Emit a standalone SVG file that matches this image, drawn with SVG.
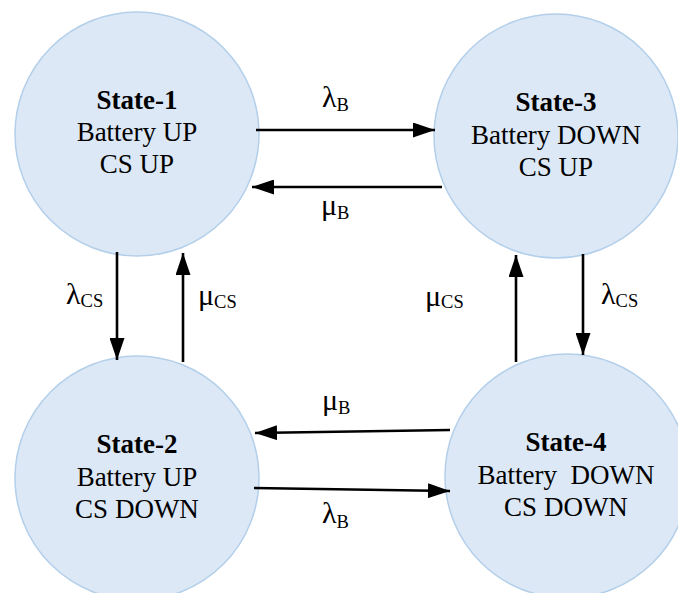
<svg xmlns="http://www.w3.org/2000/svg" width="678" height="593" viewBox="0 0 678 593">
<defs>
<style>
.node circle{fill:#dce8f5;stroke:#b3cfea;stroke-width:1.5}
.t{font-family:"Liberation Serif","Times New Roman",serif;font-size:27px;fill:#000;text-anchor:middle;white-space:pre}
.b{font-weight:bold}
.lbl{font-family:"Liberation Serif","Times New Roman",serif;font-size:30px;fill:#000}
.sub{font-size:18.5px}
.conn line{stroke:#000;stroke-width:2.6;fill:none;marker-end:url(#ah)}
</style>
<marker id="ah" viewBox="0 0 22 15" refX="22" refY="7.5" markerWidth="22" markerHeight="15" markerUnits="userSpaceOnUse" orient="auto">
<path d="M0,0 L22,7.5 L0,15 z" fill="#000"/>
</marker>
</defs>
<rect width="678" height="593" fill="#fff"/>
<g id="state1" class="node">
<circle cx="137" cy="134" r="122"/>
<text class="t b" x="137" y="109">State-1</text>
<text class="t" x="137" y="141">Battery UP</text>
<text class="t" x="137" y="173">CS UP</text>
</g>
<g id="state3" class="node">
<circle cx="556" cy="136" r="122"/>
<text class="t b" x="556" y="111">State-3</text>
<text class="t" x="556" y="144">Battery DOWN</text>
<text class="t" x="556" y="176">CS UP</text>
</g>
<g id="state2" class="node">
<circle cx="137" cy="478" r="122"/>
<text class="t b" x="137" y="453">State-2</text>
<text class="t" x="137" y="486">Battery UP</text>
<text class="t" x="137" y="518">CS DOWN</text>
</g>
<g id="state4" class="node">
<circle cx="567" cy="476" r="122"/>
<text class="t b" x="566" y="451">State-4</text>
<text class="t" x="566" y="484">Battery  DOWN</text>
<text class="t" x="566" y="516">CS DOWN</text>
</g>
<g id="connectors" class="conn">
<line x1="256" y1="130" x2="435" y2="130"/>
<line x1="442" y1="187" x2="252" y2="187"/>
<line x1="117" y1="252" x2="117" y2="360"/>
<line x1="183" y1="362" x2="183" y2="253"/>
<line x1="516" y1="362" x2="516" y2="255"/>
<line x1="583" y1="254" x2="583" y2="355"/>
<line x1="450" y1="430" x2="255" y2="433"/>
<line x1="254" y1="488" x2="450" y2="491"/>
</g>
<g id="labels">
<text class="lbl" x="322" y="107">λ<tspan class="sub" dy="4">B</tspan></text>
<text class="lbl" x="321" y="215">μ<tspan class="sub" dy="4">B</tspan></text>
<text class="lbl" x="66" y="304">λ<tspan class="sub" dy="3">CS</tspan></text>
<text class="lbl" x="198" y="305">μ<tspan class="sub" dy="3">CS</tspan></text>
<text class="lbl" x="425" y="306">μ<tspan class="sub" dy="2">CS</tspan></text>
<text class="lbl" x="601" y="304">λ<tspan class="sub" dy="3">CS</tspan></text>
<text class="lbl" x="322" y="410">μ<tspan class="sub" dy="4">B</tspan></text>
<text class="lbl" x="322" y="523">λ<tspan class="sub" dy="5">B</tspan></text>
</g>
</svg>
